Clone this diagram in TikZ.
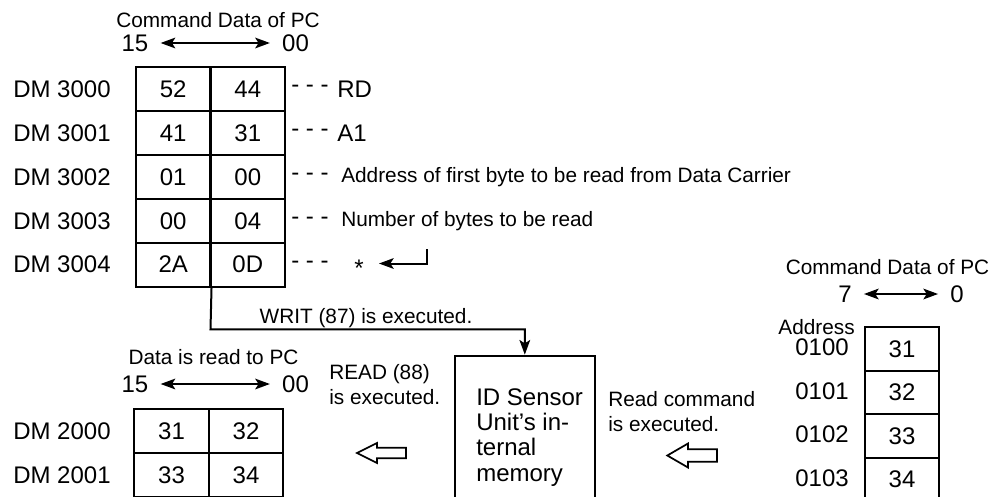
\documentclass[tikz,border=0pt]{standalone}
\usepackage{fontspec}
\setmainfont{Liberation Sans}
\usetikzlibrary{arrows.meta}
\begin{document}
\begin{tikzpicture}[x=0.75pt,y=-0.75pt,
  big/.style={font=\fontsize{18}{18.9}\selectfont, inner sep=0pt},
  small/.style={font=\fontsize{15.6}{18.6}\selectfont, inner sep=0pt},
  cell/.style={draw, line width=1.5pt, minimum width=55.9pt, minimum height=32.9pt, inner sep=0pt, font=\fontsize{18}{21}\selectfont},
  rcell/.style={draw, line width=1.5pt, minimum width=55.5pt, minimum height=32.6pt, inner sep=0pt, font=\fontsize{18}{21}\selectfont},
  conn/.style={line width=1.5pt},
  dbl/.style={line width=1.5pt, {Stealth[length=11pt,width=8pt,inset=2.5pt]}-{Stealth[length=11pt,width=8pt,inset=2.5pt]}},
  tip/.style={line width=1.5pt, -{Stealth[length=11pt,width=8pt,inset=2.5pt]}},
  hollow/.style={line width=1.3pt, line join=miter}
]
\clip (0,0) rectangle (994,496);
\fill[white] (0,0) rectangle (994,496);

% ---------- top table ----------
\node[small] (h1) at (218,20) {Command Data of PC};
\node[big] (h1a) at (135,43) {15};
\node[big] (h1b) at (295.5,43) {00};
\draw[dbl] ([xshift=9pt]h1a.east) -- ([xshift=-9pt]h1b.west);

\foreach \r/\y/\a/\b/\lab in {1/89.2/52/44/3000, 2/133.1/41/31/3001, 3/176.9/01/00/3002, 4/220.8/00/04/3003, 5/264.6/2A/0D/3004}{
  \node[cell] (t\r a) at (173.25,\y) {\a};
  \node[cell] (t\r b) at (247.75,\y) {\b};
  \node[big, anchor=west] (l\r) at (13,\y) {DM \lab};
  \node[big, anchor=west] (d\r) at (291,\y) {- - -};
}
\node[big, anchor=west] (rd) at (337,89.2) {RD};
\node[big, anchor=west] (a1) at (337,133.1) {A1};
\node[small, anchor=west] (adr) at (341,176.9) {Address of first byte to be read from Data Carrier};
\node[small, anchor=west] (nb) at (341,220.8) {Number of bytes to be read};
\node[big] (star) at (359,268) {*};
\coordinate (rtntop) at (427,249);
\coordinate (rtntip) at (379,263.5);
\draw[tip] (rtntop) |- (rtntip);

% ---------- WRIT connector ----------
\node[draw, line width=1.5pt, minimum width=105pt, minimum height=116pt, inner sep=0pt] (mem) at (524.8,433) {};
\node[big, align=left, anchor=north west] (memt) at (476,388.5) {ID Sensor\\Unit’s in-\\ternal\\memory};
\coordinate (wbend) at (210.5,329.3);
\draw[tip] (t5a.south east) -- (wbend) -| (mem.north);
\node[small] (writ) at (366,318) {WRIT (87) is executed.};

% ---------- bottom-left table ----------
\node[small] (h2) at (213.5,357) {Data is read to PC};
\node[big] (h2a) at (135,384) {15};
\node[big] (h2b) at (295.5,384) {00};
\draw[dbl] ([xshift=9pt]h2a.east) -- ([xshift=-9pt]h2b.west);
\foreach \r/\y/\a/\b/\lab in {1/431.3/31/32/2000, 2/475.3/33/34/2001}{
  \node[cell, minimum height=33pt] (b\r a) at (171.5,\y) {\a};
  \node[cell, minimum height=33pt] (b\r b) at (246,\y) {\b};
  \node[big, anchor=west] (bl\r) at (13,\y) {DM \lab};
}

% ---------- READ text + hollow arrow ----------
\node[small, align=left, anchor=west] (readt) at (329,384.5) {READ (88)\\is executed.};
\draw[hollow] (357,453) -- (377,443) -- (377,447.7) -- (406,447.7) -- (406,458.3) -- (377,458.3) -- (377,463) -- cycle;

\node[small, align=left, anchor=west] (rct) at (608,411.5) {Read command\\is executed.};
\draw[hollow] (667.3,455.5) -- (688,443.5) -- (688,449.3) -- (717,449.3) -- (717,461.7) -- (688,461.7) -- (688,467.5) -- cycle;

% ---------- right table ----------
\node[small] (h3) at (887.5,267) {Command Data of PC};
\node[big] (h3a) at (845,294) {7};
\node[big] (h3b) at (957,294) {0};
\draw[dbl] ([xshift=9pt]h3a.east) -- ([xshift=-9pt]h3b.west);
\node[small, anchor=east] (addr) at (855,327) {Address};
\foreach \r/\y/\v/\lab in {1/349/31/0100, 2/392.5/32/0101, 3/436/33/0102, 4/479.5/34/0103}{
  \node[rcell] (r\r) at (902,\y) {\v};
  \node[big, anchor=east] (rl\r) at (849,\y-1.5) {\lab};
}
\end{tikzpicture}
\end{document}
